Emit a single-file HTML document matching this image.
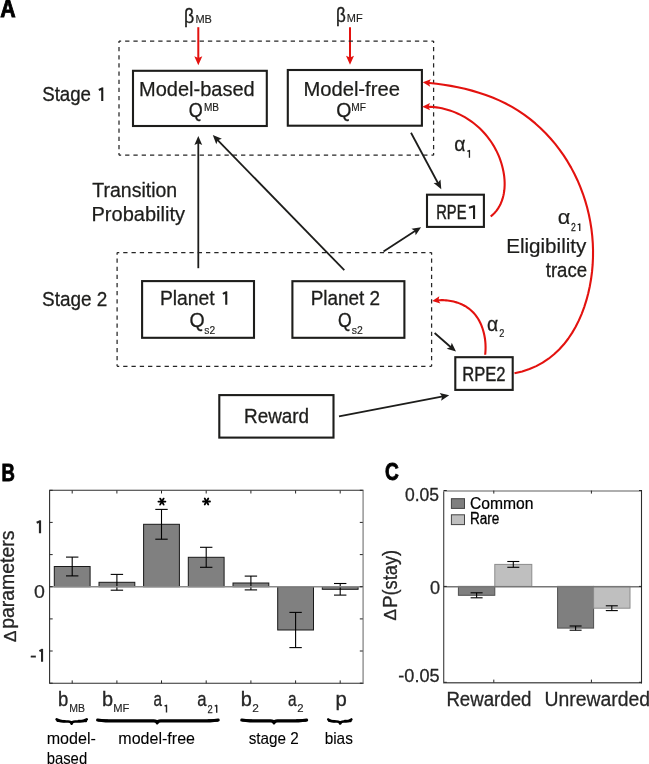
<!DOCTYPE html>
<html><head><meta charset="utf-8"><style>
html,body{margin:0;padding:0;background:#fff;width:649px;height:764px;overflow:hidden;}
svg{display:block;font-family:"Liberation Sans", sans-serif;will-change:transform;}
</style></head><body>
<svg width="649" height="764" viewBox="0 0 649 764" font-family='"Liberation Sans", sans-serif'><text x="0.30" y="16.70" font-size="24.5" text-anchor="start" font-weight="bold" textLength="15.4" lengthAdjust="spacingAndGlyphs" fill="#000" stroke="#000" stroke-width="0.9">A</text>
<text x="183.92" y="22.70" font-size="20" text-anchor="start" textLength="10.2" lengthAdjust="spacingAndGlyphs" fill="#1d1d1b" stroke="#1d1d1b" stroke-width="0.36">β</text>
<text x="195.42" y="22.50" font-size="10.8" text-anchor="start" textLength="16.5" lengthAdjust="spacingAndGlyphs" fill="#1d1d1b" stroke="#1d1d1b" stroke-width="0.15">MB</text>
<text x="335.90" y="22.00" font-size="20" text-anchor="start" textLength="9.8" lengthAdjust="spacingAndGlyphs" fill="#1d1d1b" stroke="#1d1d1b" stroke-width="0.40">β</text>
<text x="346.88" y="21.90" font-size="10.8" text-anchor="start" textLength="15.8" lengthAdjust="spacingAndGlyphs" fill="#1d1d1b" stroke="#1d1d1b" stroke-width="0.15">MF</text>
<line x1="198.3" y1="27.2" x2="198.3" y2="59.0" stroke="#e3120f" stroke-width="2"/>
<path d="M198.30,65.30 L194.30,56.30 L198.30,58.10 L202.30,56.30 Z" fill="#e3120f"/>
<line x1="350.0" y1="27.2" x2="350.0" y2="58.5" stroke="#e3120f" stroke-width="2"/>
<path d="M350.00,64.80 L346.00,55.80 L350.00,57.60 L354.00,55.80 Z" fill="#e3120f"/>
<line x1="119" y1="41" x2="433.6" y2="41" stroke="#262626" stroke-width="1.25" stroke-dasharray="4.305 3.974" stroke-dashoffset="2.153"/>
<line x1="433.6" y1="41" x2="433.6" y2="155.2" stroke="#262626" stroke-width="1.25" stroke-dasharray="4.242 3.915" stroke-dashoffset="2.121"/>
<line x1="433.6" y1="155.2" x2="119" y2="155.2" stroke="#262626" stroke-width="1.25" stroke-dasharray="4.305 3.974" stroke-dashoffset="2.153"/>
<line x1="119" y1="155.2" x2="119" y2="41" stroke="#262626" stroke-width="1.25" stroke-dasharray="4.242 3.915" stroke-dashoffset="2.121"/>
<line x1="117.1" y1="252.6" x2="431.6" y2="252.6" stroke="#262626" stroke-width="1.25" stroke-dasharray="4.304 3.973" stroke-dashoffset="2.152"/>
<line x1="431.6" y1="252.6" x2="431.6" y2="366.3" stroke="#262626" stroke-width="1.25" stroke-dasharray="4.223 3.898" stroke-dashoffset="2.112"/>
<line x1="431.6" y1="366.3" x2="117.1" y2="366.3" stroke="#262626" stroke-width="1.25" stroke-dasharray="4.304 3.973" stroke-dashoffset="2.152"/>
<line x1="117.1" y1="366.3" x2="117.1" y2="252.6" stroke="#262626" stroke-width="1.25" stroke-dasharray="4.223 3.898" stroke-dashoffset="2.112"/>
<text x="42.20" y="101.00" font-size="19.7" text-anchor="start" textLength="48.8" lengthAdjust="spacingAndGlyphs" fill="#1d1d1b" stroke="#1d1d1b" stroke-width="0.31">Stage</text>
<path class="t" d="M102.25,100.90 L102.25,87.62 M102.88,88.14 L98.83,89.94" fill="none" stroke="#1d1d1b" stroke-width="2.10"/>
<text x="42.02" y="306.30" font-size="19.7" text-anchor="start" textLength="65.3" lengthAdjust="spacingAndGlyphs" fill="#1d1d1b" stroke="#1d1d1b" stroke-width="0.29">Stage 2</text>
<rect x="133.0" y="70.8" width="133.8" height="55.2" fill="none" stroke="#1d1d1b" stroke-width="2.1"/>
<text x="139.04" y="96.00" font-size="19.7" text-anchor="start" textLength="115.7" lengthAdjust="spacingAndGlyphs" fill="#1d1d1b" stroke="#1d1d1b" stroke-width="0.25">Model-based</text>
<text x="188.80" y="117.20" font-size="19.7" text-anchor="start" textLength="14.0" lengthAdjust="spacingAndGlyphs" fill="#1d1d1b" stroke="#1d1d1b" stroke-width="0.34">Q</text>
<text x="203.96" y="110.60" font-size="11.2" text-anchor="start" textLength="15.1" lengthAdjust="spacingAndGlyphs" fill="#1d1d1b" stroke="#1d1d1b" stroke-width="0.20">MB</text>
<rect x="287.8" y="70.0" width="134.1" height="55.7" fill="none" stroke="#1d1d1b" stroke-width="2.1"/>
<text x="303.40" y="95.70" font-size="19.7" text-anchor="start" textLength="96.5" lengthAdjust="spacingAndGlyphs" fill="#1d1d1b" stroke="#1d1d1b" stroke-width="0.24">Model-free</text>
<text x="336.20" y="117.20" font-size="19.7" text-anchor="start" textLength="15.2" lengthAdjust="spacingAndGlyphs" fill="#1d1d1b" stroke="#1d1d1b" stroke-width="0.27">Q</text>
<text x="351.36" y="110.60" font-size="11.2" text-anchor="start" textLength="14.6" lengthAdjust="spacingAndGlyphs" fill="#1d1d1b" stroke="#1d1d1b" stroke-width="0.20">MF</text>
<text x="92.28" y="196.80" font-size="19.7" text-anchor="start" textLength="84.9" lengthAdjust="spacingAndGlyphs" fill="#1d1d1b" stroke="#1d1d1b" stroke-width="0.27">Transition</text>
<text x="91.48" y="220.90" font-size="19.7" text-anchor="start" textLength="93.5" lengthAdjust="spacingAndGlyphs" fill="#1d1d1b" stroke="#1d1d1b" stroke-width="0.25">Probability</text>
<line x1="198.3" y1="268.2" x2="198.3" y2="142.4" stroke="#1d1d1b" stroke-width="1.8"/>
<path d="M198.30,136.10 L202.20,145.10 L198.30,143.30 L194.40,145.10 Z" fill="#1d1d1b"/>
<line x1="344.3" y1="270.2" x2="217.2" y2="139.6" stroke="#1d1d1b" stroke-width="1.8"/>
<path d="M212.80,135.10 L221.87,138.83 L217.82,140.26 L216.28,144.27 Z" fill="#1d1d1b"/>
<line x1="411.0" y1="132.8" x2="438.3" y2="183.7" stroke="#1d1d1b" stroke-width="1.8"/>
<path d="M441.30,189.20 L433.61,183.12 L437.89,182.86 L440.48,179.43 Z" fill="#1d1d1b"/>
<line x1="383.5" y1="251.4" x2="415.8" y2="230.6" stroke="#1d1d1b" stroke-width="1.8"/>
<path d="M421.10,227.20 L415.64,235.35 L415.05,231.10 L411.42,228.79 Z" fill="#1d1d1b"/>
<line x1="434.6" y1="333.0" x2="451.2" y2="347.5" stroke="#1d1d1b" stroke-width="1.8"/>
<path d="M456.00,351.60 L446.65,348.64 L450.57,346.88 L451.77,342.75 Z" fill="#1d1d1b"/>
<line x1="339.0" y1="416.4" x2="443.0" y2="396.4" stroke="#1d1d1b" stroke-width="1.8"/>
<path d="M449.20,395.20 L441.10,400.73 L442.13,396.56 L439.63,393.07 Z" fill="#1d1d1b"/>
<rect x="427.0" y="194.7" width="56.9" height="32.2" fill="none" stroke="#1d1d1b" stroke-width="2.1"/>
<text x="436.20" y="218.80" font-size="19.7" text-anchor="start" textLength="30.3" lengthAdjust="spacingAndGlyphs" fill="#1d1d1b" stroke="#1d1d1b" stroke-width="0.48">RPE</text>
<path class="t" d="M474.05,218.90 L474.05,205.42 M474.68,205.94 L468.94,207.78" fill="none" stroke="#1d1d1b" stroke-width="2.10"/>
<text x="454.18" y="150.70" font-size="19.5" text-anchor="start" textLength="11.2" lengthAdjust="spacingAndGlyphs" fill="#1d1d1b" stroke="#1d1d1b" stroke-width="0.27">α</text>
<path class="t" d="M469.45,157.70 L469.45,150.06 M469.84,150.39 L467.35,151.38" fill="none" stroke="#1d1d1b" stroke-width="1.30"/>
<text x="557.66" y="223.80" font-size="19.5" text-anchor="start" textLength="12.6" lengthAdjust="spacingAndGlyphs" fill="#1d1d1b" stroke="#1d1d1b" stroke-width="0.16">α</text>
<text x="571.00" y="230.80" font-size="11.5" text-anchor="start" textLength="4.8" lengthAdjust="spacingAndGlyphs" fill="#1d1d1b" stroke="#1d1d1b" stroke-width="0.28">2</text>
<path class="t" d="M579.75,231.00 L579.75,223.46 M580.14,223.78 L577.66,224.76" fill="none" stroke="#1d1d1b" stroke-width="1.30"/>
<text x="586.36" y="253.00" font-size="19.7" text-anchor="end" textLength="80.2" lengthAdjust="spacingAndGlyphs" fill="#1d1d1b" stroke="#1d1d1b" stroke-width="0.22">Eligibility</text>
<text x="587.04" y="276.50" font-size="19.7" text-anchor="end" textLength="41.3" lengthAdjust="spacingAndGlyphs" fill="#1d1d1b" stroke="#1d1d1b" stroke-width="0.31">trace</text>
<text x="487.12" y="330.80" font-size="19.5" text-anchor="start" textLength="11.2" lengthAdjust="spacingAndGlyphs" fill="#1d1d1b" stroke="#1d1d1b" stroke-width="0.27">α</text>
<text x="499.28" y="337.40" font-size="11" text-anchor="start" textLength="5.1" lengthAdjust="spacingAndGlyphs" fill="#1d1d1b" stroke="#1d1d1b" stroke-width="0.23">2</text>
<rect x="142.1" y="281.1" width="111.9" height="56.7" fill="none" stroke="#1d1d1b" stroke-width="2.1"/>
<text x="159.90" y="304.80" font-size="19.7" text-anchor="start" textLength="54.8" lengthAdjust="spacingAndGlyphs" fill="#1d1d1b" stroke="#1d1d1b" stroke-width="0.28">Planet</text>
<path class="t" d="M226.25,304.80 L226.25,291.52 M226.88,292.05 L222.84,293.84" fill="none" stroke="#1d1d1b" stroke-width="2.10"/>
<text x="189.62" y="326.80" font-size="19.7" text-anchor="start" textLength="15.2" lengthAdjust="spacingAndGlyphs" fill="#1d1d1b" stroke="#1d1d1b" stroke-width="0.27">Q</text>
<text x="204.36" y="333.70" font-size="10.5" text-anchor="start" textLength="10.8" lengthAdjust="spacingAndGlyphs" fill="#1d1d1b" stroke="#1d1d1b" stroke-width="0.15">s2</text>
<rect x="292.4" y="281.2" width="112.0" height="56.6" fill="none" stroke="#1d1d1b" stroke-width="2.1"/>
<text x="310.64" y="305.20" font-size="19.7" text-anchor="start" textLength="69.5" lengthAdjust="spacingAndGlyphs" fill="#1d1d1b" stroke="#1d1d1b" stroke-width="0.30">Planet 2</text>
<text x="338.02" y="326.80" font-size="19.7" text-anchor="start" textLength="13.7" lengthAdjust="spacingAndGlyphs" fill="#1d1d1b" stroke="#1d1d1b" stroke-width="0.36">Q</text>
<text x="351.72" y="333.70" font-size="10.5" text-anchor="start" textLength="11.0" lengthAdjust="spacingAndGlyphs" fill="#1d1d1b" stroke="#1d1d1b" stroke-width="0.15">s2</text>
<rect x="455.3" y="357.2" width="57.4" height="32.7" fill="none" stroke="#1d1d1b" stroke-width="2.1"/>
<text x="462.20" y="381.00" font-size="19.7" text-anchor="start" textLength="43.3" lengthAdjust="spacingAndGlyphs" fill="#1d1d1b" stroke="#1d1d1b" stroke-width="0.40">RPE2</text>
<rect x="219.3" y="395.1" width="114.2" height="42.5" fill="none" stroke="#1d1d1b" stroke-width="2.1"/>
<text x="244.02" y="423.30" font-size="19.7" text-anchor="start" textLength="65.1" lengthAdjust="spacingAndGlyphs" fill="#1d1d1b" stroke="#1d1d1b" stroke-width="0.30">Reward</text>
<path d="M490.71,216.49 L492.86,214.63 L494.81,212.65 L496.57,210.55 L498.12,208.35 L499.50,206.05 L500.69,203.67 L501.72,201.21 L502.58,198.68 L503.28,196.09 L503.84,193.45 L504.24,190.77 L504.51,188.05 L504.64,185.30 L504.64,182.54 L504.51,179.76 L504.26,176.98 L503.90,174.20 L503.42,171.42 L502.84,168.67 L502.16,165.94 L501.39,163.25 L500.52,160.60 L499.57,157.98 L498.53,155.41 L497.40,152.89 L496.19,150.41 L494.90,147.98 L493.53,145.60 L492.08,143.27 L490.56,140.99 L488.97,138.78 L487.30,136.62 L485.56,134.51 L483.76,132.47 L481.89,130.50 L479.95,128.59 L477.96,126.74 L475.90,124.97 L473.79,123.26 L471.62,121.63 L469.39,120.07 L467.11,118.58 L464.79,117.18 L462.41,115.85 L459.99,114.61 L457.52,113.45 L455.01,112.37 L452.46,111.38 L449.87,110.48 L447.24,109.68 L444.58,108.96 L441.88,108.34 L439.15,107.81 L436.40,107.38 L433.61,107.05 L430.80,106.83 L427.97,106.70 L427.70,106.70" fill="none" stroke="#e3120f" stroke-width="2.1" stroke-linejoin="round"/>
<path d="M422.24,106.77 L429.99,102.97 L428.48,106.69 L430.08,110.37 Z" fill="#e3120f"/>
<path d="M514.48,373.20 L522.20,371.42 L529.47,369.04 L536.27,366.10 L542.64,362.64 L548.57,358.70 L554.08,354.30 L559.18,349.48 L563.88,344.29 L568.19,338.74 L572.11,332.89 L575.67,326.76 L578.87,320.38 L581.71,313.81 L584.22,307.06 L586.41,300.18 L588.27,293.20 L589.82,286.15 L591.07,279.04 L592.01,271.89 L592.65,264.70 L592.99,257.50 L593.03,250.28 L592.78,243.08 L592.23,235.88 L591.39,228.72 L590.26,221.60 L588.85,214.53 L587.15,207.53 L585.17,200.61 L582.91,193.78 L580.37,187.06 L577.56,180.45 L574.48,173.96 L571.12,167.62 L567.51,161.43 L563.64,155.41 L559.51,149.56 L555.15,143.91 L550.54,138.45 L545.70,133.21 L540.62,128.19 L535.33,123.41 L529.82,118.88 L524.09,114.62 L518.16,110.62 L512.03,106.92 L505.71,103.51 L499.21,100.39 L492.55,97.55 L485.77,94.98 L478.88,92.68 L471.91,90.62 L464.88,88.81 L457.82,87.22 L450.74,85.85 L443.67,84.69 L436.63,83.73 L429.65,82.96 L428.19,82.84" fill="none" stroke="#e3120f" stroke-width="2.1" stroke-linejoin="round"/>
<path d="M422.75,82.37 L430.84,79.35 L428.97,82.90 L430.21,86.72 Z" fill="#e3120f"/>
<path d="M485.15,354.76 L485.30,353.27 L485.43,351.77 L485.51,350.26 L485.56,348.74 L485.57,347.21 L485.54,345.68 L485.48,344.14 L485.38,342.60 L485.24,341.06 L485.06,339.52 L484.84,337.98 L484.58,336.46 L484.29,334.93 L483.95,333.42 L483.58,331.93 L483.16,330.44 L482.71,328.97 L482.21,327.52 L481.68,326.09 L481.10,324.68 L480.48,323.30 L479.82,321.94 L479.12,320.61 L478.38,319.31 L477.59,318.04 L476.77,316.80 L475.89,315.60 L474.98,314.44 L474.02,313.32 L473.02,312.24 L471.98,311.21 L470.89,310.22 L469.76,309.27 L468.59,308.38 L467.39,307.53 L466.14,306.72 L464.86,305.96 L463.55,305.25 L462.22,304.58 L460.85,303.96 L459.45,303.39 L458.04,302.86 L456.60,302.38 L455.13,301.95 L453.66,301.56 L452.16,301.22 L450.65,300.93 L449.13,300.68 L447.60,300.49 L446.06,300.33 L444.52,300.23 L442.97,300.17 L441.41,300.16 L439.86,300.19 L438.31,300.28 L437.57,300.29" fill="none" stroke="#e3120f" stroke-width="2.1" stroke-linejoin="round"/>
<path d="M432.17,301.09 L439.35,296.29 L438.34,300.18 L440.43,303.61 Z" fill="#e3120f"/>
<text x="1.60" y="480.70" font-size="24.7" text-anchor="start" font-weight="bold" textLength="13.4" lengthAdjust="spacingAndGlyphs" fill="#000" stroke="#000" stroke-width="0.9">B</text>
<rect x="54.3" y="566.5" width="35.8" height="20.2" fill="#808080" stroke="#1a1a1a" stroke-width="1"/>
<rect x="99.0" y="582.3" width="35.8" height="4.4" fill="#808080" stroke="#1a1a1a" stroke-width="1"/>
<rect x="143.6" y="524.3" width="35.8" height="62.4" fill="#808080" stroke="#1a1a1a" stroke-width="1"/>
<rect x="188.3" y="557.3" width="35.8" height="29.4" fill="#808080" stroke="#1a1a1a" stroke-width="1"/>
<rect x="233.0" y="583.0" width="35.8" height="3.7" fill="#808080" stroke="#1a1a1a" stroke-width="1"/>
<rect x="277.7" y="586.7" width="35.8" height="43.3" fill="#808080" stroke="#1a1a1a" stroke-width="1"/>
<rect x="322.3" y="586.7" width="35.8" height="2.6" fill="#808080" stroke="#1a1a1a" stroke-width="1"/>
<line x1="72.2" y1="557.1" x2="72.2" y2="575.9" stroke="#000" stroke-width="1.1"/>
<line x1="66.0" y1="557.1" x2="78.4" y2="557.1" stroke="#000" stroke-width="1.1"/>
<line x1="66.0" y1="575.9" x2="78.4" y2="575.9" stroke="#000" stroke-width="1.1"/>
<line x1="116.9" y1="574.4" x2="116.9" y2="590.2" stroke="#000" stroke-width="1.1"/>
<line x1="110.7" y1="574.4" x2="123.1" y2="574.4" stroke="#000" stroke-width="1.1"/>
<line x1="110.7" y1="590.2" x2="123.1" y2="590.2" stroke="#000" stroke-width="1.1"/>
<line x1="161.5" y1="509.4" x2="161.5" y2="539.2" stroke="#000" stroke-width="1.1"/>
<line x1="155.3" y1="509.4" x2="167.7" y2="509.4" stroke="#000" stroke-width="1.1"/>
<line x1="155.3" y1="539.2" x2="167.7" y2="539.2" stroke="#000" stroke-width="1.1"/>
<line x1="206.2" y1="547.3" x2="206.2" y2="567.3" stroke="#000" stroke-width="1.1"/>
<line x1="200.0" y1="547.3" x2="212.4" y2="547.3" stroke="#000" stroke-width="1.1"/>
<line x1="200.0" y1="567.3" x2="212.4" y2="567.3" stroke="#000" stroke-width="1.1"/>
<line x1="250.9" y1="576.1" x2="250.9" y2="589.9" stroke="#000" stroke-width="1.1"/>
<line x1="244.7" y1="576.1" x2="257.1" y2="576.1" stroke="#000" stroke-width="1.1"/>
<line x1="244.7" y1="589.9" x2="257.1" y2="589.9" stroke="#000" stroke-width="1.1"/>
<line x1="295.6" y1="612.4" x2="295.6" y2="647.6" stroke="#000" stroke-width="1.1"/>
<line x1="289.4" y1="612.4" x2="301.8" y2="612.4" stroke="#000" stroke-width="1.1"/>
<line x1="289.4" y1="647.6" x2="301.8" y2="647.6" stroke="#000" stroke-width="1.1"/>
<line x1="340.2" y1="583.5" x2="340.2" y2="595.1" stroke="#000" stroke-width="1.1"/>
<line x1="334.0" y1="583.5" x2="346.4" y2="583.5" stroke="#000" stroke-width="1.1"/>
<line x1="334.0" y1="595.1" x2="346.4" y2="595.1" stroke="#000" stroke-width="1.1"/>
<line x1="49.7" y1="586.7" x2="362.8" y2="586.7" stroke="#8a8a8a" stroke-width="1.6"/>
<line x1="49.6" y1="490.3" x2="49.6" y2="683.3" stroke="#2e2e2e" stroke-width="1.1"/>
<line x1="49.1" y1="683.3" x2="363.6" y2="683.3" stroke="#2e2e2e" stroke-width="1.1"/>
<line x1="49.1" y1="490.3" x2="363.6" y2="490.3" stroke="#2e2e2e" stroke-width="1.1"/>
<line x1="363.1" y1="490.3" x2="363.1" y2="683.8" stroke="#8e8e8e" stroke-width="1.4"/>
<line x1="49.7" y1="683.2" x2="52.7" y2="683.2" stroke="#262626" stroke-width="1"/>
<line x1="362.8" y1="683.2" x2="359.8" y2="683.2" stroke="#262626" stroke-width="1"/>
<line x1="49.7" y1="651.0" x2="52.7" y2="651.0" stroke="#262626" stroke-width="1"/>
<line x1="362.8" y1="651.0" x2="359.8" y2="651.0" stroke="#262626" stroke-width="1"/>
<line x1="49.7" y1="618.9" x2="52.7" y2="618.9" stroke="#262626" stroke-width="1"/>
<line x1="362.8" y1="618.9" x2="359.8" y2="618.9" stroke="#262626" stroke-width="1"/>
<line x1="49.7" y1="586.7" x2="52.7" y2="586.7" stroke="#262626" stroke-width="1"/>
<line x1="362.8" y1="586.7" x2="359.8" y2="586.7" stroke="#262626" stroke-width="1"/>
<line x1="49.7" y1="554.6" x2="52.7" y2="554.6" stroke="#262626" stroke-width="1"/>
<line x1="362.8" y1="554.6" x2="359.8" y2="554.6" stroke="#262626" stroke-width="1"/>
<line x1="49.7" y1="522.4" x2="52.7" y2="522.4" stroke="#262626" stroke-width="1"/>
<line x1="362.8" y1="522.4" x2="359.8" y2="522.4" stroke="#262626" stroke-width="1"/>
<line x1="49.7" y1="490.3" x2="52.7" y2="490.3" stroke="#262626" stroke-width="1"/>
<line x1="362.8" y1="490.3" x2="359.8" y2="490.3" stroke="#262626" stroke-width="1"/>
<line x1="72.2" y1="490.5" x2="72.2" y2="493.5" stroke="#262626" stroke-width="1"/>
<line x1="72.2" y1="683.4" x2="72.2" y2="680.4" stroke="#262626" stroke-width="1"/>
<line x1="116.9" y1="490.5" x2="116.9" y2="493.5" stroke="#262626" stroke-width="1"/>
<line x1="116.9" y1="683.4" x2="116.9" y2="680.4" stroke="#262626" stroke-width="1"/>
<line x1="161.5" y1="490.5" x2="161.5" y2="493.5" stroke="#262626" stroke-width="1"/>
<line x1="161.5" y1="683.4" x2="161.5" y2="680.4" stroke="#262626" stroke-width="1"/>
<line x1="206.2" y1="490.5" x2="206.2" y2="493.5" stroke="#262626" stroke-width="1"/>
<line x1="206.2" y1="683.4" x2="206.2" y2="680.4" stroke="#262626" stroke-width="1"/>
<line x1="250.9" y1="490.5" x2="250.9" y2="493.5" stroke="#262626" stroke-width="1"/>
<line x1="250.9" y1="683.4" x2="250.9" y2="680.4" stroke="#262626" stroke-width="1"/>
<line x1="295.6" y1="490.5" x2="295.6" y2="493.5" stroke="#262626" stroke-width="1"/>
<line x1="295.6" y1="683.4" x2="295.6" y2="680.4" stroke="#262626" stroke-width="1"/>
<line x1="340.2" y1="490.5" x2="340.2" y2="493.5" stroke="#262626" stroke-width="1"/>
<line x1="340.2" y1="683.4" x2="340.2" y2="680.4" stroke="#262626" stroke-width="1"/>
<line x1="158.40" y1="501.60" x2="165.40" y2="501.60" stroke="#000" stroke-width="1.8" stroke-linecap="round"/>
<line x1="160.15" y1="498.57" x2="163.65" y2="504.63" stroke="#000" stroke-width="1.8" stroke-linecap="round"/>
<line x1="163.65" y1="498.57" x2="160.15" y2="504.63" stroke="#000" stroke-width="1.8" stroke-linecap="round"/>
<line x1="203.00" y1="501.50" x2="210.00" y2="501.50" stroke="#000" stroke-width="1.8" stroke-linecap="round"/>
<line x1="204.75" y1="498.47" x2="208.25" y2="504.53" stroke="#000" stroke-width="1.8" stroke-linecap="round"/>
<line x1="208.25" y1="498.47" x2="204.75" y2="504.53" stroke="#000" stroke-width="1.8" stroke-linecap="round"/>
<path class="t" d="M40.00,533.30 L40.00,520.44 M40.66,520.99 L36.67,522.66" fill="none" stroke="#262626" stroke-width="2.20"/>
<text x="34.00" y="598.20" font-size="18.6" text-anchor="start" textLength="10.9" lengthAdjust="spacingAndGlyphs" fill="#262626" stroke="#262626" stroke-width="0.20">0</text>
<text x="30.10" y="661.80" font-size="18.6" text-anchor="start" textLength="6.7" lengthAdjust="spacingAndGlyphs" fill="#262626" stroke="#262626" stroke-width="0.18">-</text>
<path class="t" d="M42.05,661.80 L42.05,648.92 M42.68,649.45 L39.44,651.16" fill="none" stroke="#262626" stroke-width="2.10"/>
<text transform="translate(14.10,628.72) rotate(-90)" font-size="19.3" textLength="98.06" lengthAdjust="spacingAndGlyphs" fill="#262626" stroke="#262626" stroke-width="0.3">parameters</text>
<text transform="translate(16.00,642.04) rotate(-90)" font-size="16.6" textLength="11.50" lengthAdjust="spacingAndGlyphs" fill="#262626" stroke="#262626" stroke-width="0.3">Δ</text>
<text x="58.08" y="705.50" font-size="19.3" text-anchor="start" textLength="10.3" lengthAdjust="spacingAndGlyphs" fill="#262626" stroke="#262626" stroke-width="0.30">b</text>
<text x="69.20" y="712.40" font-size="10" text-anchor="start" textLength="15.7" lengthAdjust="spacingAndGlyphs" fill="#262626" stroke="#262626" stroke-width="0.15">MB</text>
<text x="102.12" y="705.50" font-size="19.3" text-anchor="start" textLength="11.1" lengthAdjust="spacingAndGlyphs" fill="#262626" stroke="#262626" stroke-width="0.30">b</text>
<text x="113.28" y="712.40" font-size="10" text-anchor="start" textLength="16.1" lengthAdjust="spacingAndGlyphs" fill="#262626" stroke="#262626" stroke-width="0.15">MF</text>
<text x="153.54" y="705.50" font-size="19.3" text-anchor="start" textLength="8.5" lengthAdjust="spacingAndGlyphs" fill="#262626" stroke="#262626" stroke-width="0.30">a</text>
<path class="t" d="M166.50,712.40 L166.50,704.68 M166.92,705.03 L164.59,706.00" fill="none" stroke="#262626" stroke-width="1.40"/>
<text x="197.16" y="705.50" font-size="19.3" text-anchor="start" textLength="9.3" lengthAdjust="spacingAndGlyphs" fill="#262626" stroke="#262626" stroke-width="0.30">a</text>
<text x="207.60" y="712.60" font-size="11.5" text-anchor="start" textLength="5.2" lengthAdjust="spacingAndGlyphs" fill="#262626" stroke="#262626" stroke-width="0.25">2</text>
<path class="t" d="M216.70,712.70 L216.70,704.88 M217.12,705.23 L214.69,706.22" fill="none" stroke="#262626" stroke-width="1.40"/>
<text x="240.66" y="705.50" font-size="19.3" text-anchor="start" textLength="11.1" lengthAdjust="spacingAndGlyphs" fill="#262626" stroke="#262626" stroke-width="0.30">b</text>
<text x="252.28" y="712.40" font-size="11" text-anchor="start" textLength="6.6" lengthAdjust="spacingAndGlyphs" fill="#262626" stroke="#262626" stroke-width="0.15">2</text>
<text x="287.96" y="705.50" font-size="19.3" text-anchor="start" textLength="8.6" lengthAdjust="spacingAndGlyphs" fill="#262626" stroke="#262626" stroke-width="0.30">a</text>
<text x="297.16" y="712.40" font-size="11" text-anchor="start" textLength="6.3" lengthAdjust="spacingAndGlyphs" fill="#262626" stroke="#262626" stroke-width="0.15">2</text>
<text x="335.54" y="705.50" font-size="19.3" text-anchor="start" textLength="11.3" lengthAdjust="spacingAndGlyphs" fill="#262626" stroke="#262626" stroke-width="0.30">p</text>
<text x="46.66" y="744.00" font-size="16.5" text-anchor="start" textLength="49.2" lengthAdjust="spacingAndGlyphs" fill="#000" stroke="#000" stroke-width="0.10">model-</text>
<text x="46.66" y="763.60" font-size="16.5" text-anchor="start" textLength="40.5" lengthAdjust="spacingAndGlyphs" fill="#000" stroke="#000" stroke-width="0.10">based</text>
<text x="118.30" y="744.00" font-size="16.5" text-anchor="start" textLength="76.7" lengthAdjust="spacingAndGlyphs" fill="#000" stroke="#000" stroke-width="0.10">model-free</text>
<text x="248.74" y="744.00" font-size="16.5" text-anchor="start" textLength="50.1" lengthAdjust="spacingAndGlyphs" fill="#000" stroke="#000" stroke-width="0.10">stage 2</text>
<text x="324.66" y="744.00" font-size="16.5" text-anchor="start" textLength="28.2" lengthAdjust="spacingAndGlyphs" fill="#000" stroke="#000" stroke-width="0.10">bias</text>
<path d="M56.6,719.4 C60.0,721.4 60.0,721.4 63.4,721.4 L68.1,721.4 Q71.1,721.4 71.6,723.7 Q72.1,721.4 75.1,721.4 L80.0,721.4 C83.4,721.4 83.4,721.4 86.8,719.4" fill="none" stroke="#000" stroke-width="2.5" stroke-linecap="round" stroke-linejoin="round"/>
<line x1="57.4" y1="720.8" x2="64.7" y2="721.2" stroke="#000" stroke-width="2.2" stroke-linecap="round"/>
<line x1="78.7" y1="720.8" x2="86.0" y2="721.2" stroke="#000" stroke-width="2.2" stroke-linecap="round"/>
<path d="M97.6,720.1 C101.6,720.9 101.6,720.9 105.6,720.9 L153.7,720.9 Q156.7,720.9 157.2,722.9 Q157.7,720.9 160.7,720.9 L210.2,720.9 C214.2,720.9 214.2,720.9 218.2,720.1" fill="none" stroke="#000" stroke-width="3.1" stroke-linecap="round" stroke-linejoin="round"/>
<line x1="98.4" y1="720.3" x2="107.2" y2="720.7" stroke="#000" stroke-width="2.2" stroke-linecap="round"/>
<line x1="208.6" y1="720.3" x2="217.4" y2="720.7" stroke="#000" stroke-width="2.2" stroke-linecap="round"/>
<path d="M241.8,720.1 C245.8,720.9 245.8,720.9 249.8,720.9 L270.5,720.9 Q273.5,720.9 274.0,722.9 Q274.5,720.9 277.5,720.9 L298.6,720.9 C302.6,720.9 302.6,720.9 306.6,720.1" fill="none" stroke="#000" stroke-width="3.1" stroke-linecap="round" stroke-linejoin="round"/>
<line x1="242.6" y1="720.3" x2="251.4" y2="720.7" stroke="#000" stroke-width="2.2" stroke-linecap="round"/>
<line x1="297.0" y1="720.3" x2="305.8" y2="720.7" stroke="#000" stroke-width="2.2" stroke-linecap="round"/>
<path d="M328.2,719.4 C330.9,721.4 330.9,721.4 333.6,721.4 L336.7,721.4 Q339.7,721.4 340.2,723.6 Q340.7,721.4 343.7,721.4 L346.0,721.4 C348.7,721.4 348.7,721.4 351.4,719.4" fill="none" stroke="#000" stroke-width="2.5" stroke-linecap="round" stroke-linejoin="round"/>
<line x1="329.0" y1="720.8" x2="334.7" y2="721.2" stroke="#000" stroke-width="2.2" stroke-linecap="round"/>
<line x1="344.9" y1="720.8" x2="350.6" y2="721.2" stroke="#000" stroke-width="2.2" stroke-linecap="round"/>
<text x="384.90" y="480.40" font-size="24.7" text-anchor="start" font-weight="bold" textLength="13.8" lengthAdjust="spacingAndGlyphs" fill="#000" stroke="#000" stroke-width="0.9">C</text>
<rect x="458.4" y="586.4" width="36.4" height="8.9" fill="#7f7f7f" stroke="#505050" stroke-width="1"/>
<rect x="494.8" y="564.4" width="37.0" height="22.0" fill="#bfbfbf" stroke="#8c8c8c" stroke-width="1"/>
<rect x="557.6" y="586.4" width="36.0" height="41.7" fill="#7f7f7f" stroke="#505050" stroke-width="1"/>
<rect x="593.6" y="586.4" width="36.4" height="21.8" fill="#bfbfbf" stroke="#8c8c8c" stroke-width="1"/>
<line x1="476.6" y1="592.8" x2="476.6" y2="597.8" stroke="#000" stroke-width="1.1"/>
<line x1="470.6" y1="592.8" x2="482.6" y2="592.8" stroke="#000" stroke-width="1.1"/>
<line x1="470.6" y1="597.8" x2="482.6" y2="597.8" stroke="#000" stroke-width="1.1"/>
<line x1="513.3" y1="561.5" x2="513.3" y2="567.3" stroke="#000" stroke-width="1.1"/>
<line x1="507.3" y1="561.5" x2="519.3" y2="561.5" stroke="#000" stroke-width="1.1"/>
<line x1="507.3" y1="567.3" x2="519.3" y2="567.3" stroke="#000" stroke-width="1.1"/>
<line x1="575.6" y1="626.0" x2="575.6" y2="630.2" stroke="#000" stroke-width="1.1"/>
<line x1="569.6" y1="626.0" x2="581.6" y2="626.0" stroke="#000" stroke-width="1.1"/>
<line x1="569.6" y1="630.2" x2="581.6" y2="630.2" stroke="#000" stroke-width="1.1"/>
<line x1="611.8" y1="605.8" x2="611.8" y2="610.6" stroke="#000" stroke-width="1.1"/>
<line x1="605.8" y1="605.8" x2="617.8" y2="605.8" stroke="#000" stroke-width="1.1"/>
<line x1="605.8" y1="610.6" x2="617.8" y2="610.6" stroke="#000" stroke-width="1.1"/>
<line x1="443.8" y1="586.7" x2="642.0" y2="586.7" stroke="#777777" stroke-width="1.5"/>
<line x1="443.7" y1="491.0" x2="443.7" y2="682.8" stroke="#4a4a4a" stroke-width="1.2"/>
<line x1="443.1" y1="682.8" x2="642.0" y2="682.8" stroke="#5e5e5e" stroke-width="1.4"/>
<line x1="443.1" y1="491.0" x2="642.0" y2="491.0" stroke="#939393" stroke-width="1.5"/>
<line x1="641.5" y1="490.3" x2="641.5" y2="683.4" stroke="#2e2e2e" stroke-width="1.1"/>
<line x1="493.8" y1="490.6" x2="493.8" y2="493.6" stroke="#262626" stroke-width="1"/>
<line x1="493.8" y1="682.6" x2="493.8" y2="679.6" stroke="#262626" stroke-width="1"/>
<line x1="591.4" y1="490.6" x2="591.4" y2="493.6" stroke="#262626" stroke-width="1"/>
<line x1="591.4" y1="682.6" x2="591.4" y2="679.6" stroke="#262626" stroke-width="1"/>
<line x1="443.8" y1="682.3" x2="446.8" y2="682.3" stroke="#262626" stroke-width="1"/>
<line x1="642.0" y1="682.3" x2="639.0" y2="682.3" stroke="#262626" stroke-width="1"/>
<line x1="443.8" y1="586.4" x2="446.8" y2="586.4" stroke="#262626" stroke-width="1"/>
<line x1="642.0" y1="586.4" x2="639.0" y2="586.4" stroke="#262626" stroke-width="1"/>
<line x1="443.8" y1="490.5" x2="446.8" y2="490.5" stroke="#262626" stroke-width="1"/>
<line x1="642.0" y1="490.5" x2="639.0" y2="490.5" stroke="#262626" stroke-width="1"/>
<rect x="451.4" y="498.7" width="13.1" height="9.7" fill="#7f7f7f" stroke="#444" stroke-width="1"/>
<rect x="451.4" y="514.8" width="13.1" height="9.8" fill="#bfbfbf" stroke="#444" stroke-width="1"/>
<text x="469.92" y="508.60" font-size="16" text-anchor="start" textLength="63.5" lengthAdjust="spacingAndGlyphs" fill="#000" stroke="#000" stroke-width="0.23">Common</text>
<text x="469.92" y="524.00" font-size="16" text-anchor="start" textLength="29.4" lengthAdjust="spacingAndGlyphs" fill="#000" stroke="#000" stroke-width="0.32">Rare</text>
<text x="405.00" y="501.40" font-size="18.6" text-anchor="start" textLength="34.1" lengthAdjust="spacingAndGlyphs" fill="#262626" stroke="#262626" stroke-width="0.29">0.05</text>
<text x="430.10" y="594.20" font-size="18.6" text-anchor="start" textLength="10.1" lengthAdjust="spacingAndGlyphs" fill="#262626" stroke="#262626" stroke-width="0.26">0</text>
<text x="398.30" y="681.60" font-size="18.6" text-anchor="start" textLength="41.3" lengthAdjust="spacingAndGlyphs" fill="#262626" stroke="#262626" stroke-width="0.27">-0.05</text>
<text transform="translate(396.90,607.76) rotate(-90)" font-size="19.7" textLength="57.98" lengthAdjust="spacingAndGlyphs" fill="#262626" stroke="#262626" stroke-width="0.3">P(stay)</text>
<text transform="translate(396.00,620.54) rotate(-90)" font-size="16.6" textLength="11.50" lengthAdjust="spacingAndGlyphs" fill="#262626" stroke="#262626" stroke-width="0.3">Δ</text>
<text x="446.38" y="706.40" font-size="19.5" text-anchor="start" textLength="85.1" lengthAdjust="spacingAndGlyphs" fill="#262626" stroke="#262626" stroke-width="0.30">Rewarded</text>
<text x="544.48" y="706.40" font-size="19.5" text-anchor="start" textLength="105.6" lengthAdjust="spacingAndGlyphs" fill="#262626" stroke="#262626" stroke-width="0.26">Unrewarded</text></svg>
</body></html>
